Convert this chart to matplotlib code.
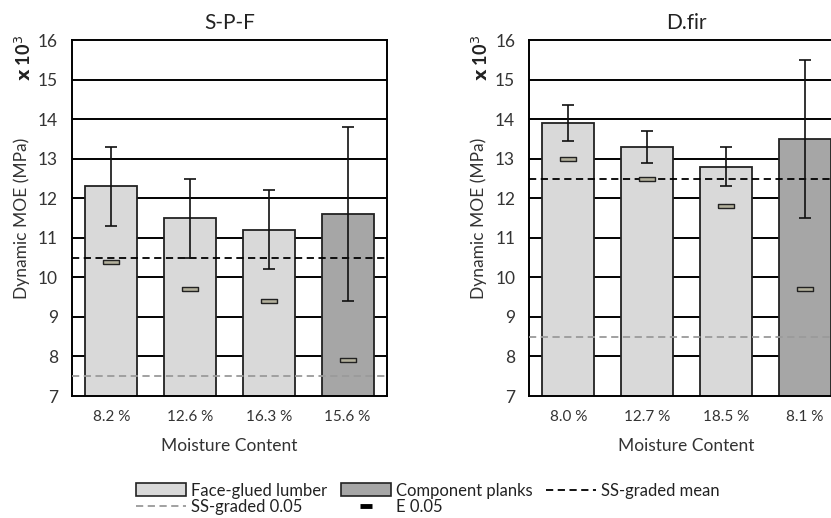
import numpy as np
import matplotlib.pyplot as plt
from matplotlib.patches import Patch
from matplotlib.lines import Line2D

plt.rcParams['font.family'] = ['Lato', 'DejaVu Sans']

# S-P-F data
spf_labels = ["8.2 %", "12.6 %", "16.3 %", "15.6 %"]
spf_mean = [12.3, 11.5, 11.2, 11.6]
spf_err_lo = [11.3, 10.5, 10.2, 9.4]
spf_err_hi = [13.3, 12.5, 12.2, 13.8]
spf_e005 = [10.4, 9.7, 9.4, 7.9]
spf_ss_mean = 10.5
spf_ss_005 = 7.5

# D.fir data
dfir_labels = ["8.0 %", "12.7 %", "18.5 %", "8.1 %"]
dfir_mean = [13.9, 13.3, 12.8, 13.5]
dfir_err_lo = [13.45, 12.9, 12.3, 11.5]
dfir_err_hi = [14.35, 13.7, 13.3, 15.5]
dfir_e005 = [13.0, 12.5, 11.8, 9.7]
dfir_ss_mean = 12.5
dfir_ss_005 = 8.5

# first three bars face-glued, last one component planks
bar_colors = ["#d9d9d9", "#d9d9d9", "#d9d9d9", "#a6a6a6"]
rect = [(-1, -0.32), (1, -0.32), (1, 0.32), (-1, 0.32), (-1, -0.32)]

fig = plt.figure(figsize=(8.31, 5.18), dpi=100)


def panel(ax, title, labels, mean, lo, hi, e005, ss_mean, ss_005):
    x = np.arange(len(labels))
    ax.set_xlim(-0.5, len(labels) - 0.5)
    ax.set_ylim(7, 16)
    ax.set_yticks(range(7, 17))
    for yv in range(8, 16):
        ax.axhline(yv, color="black", lw=1.4, zorder=0)
    ax.bar(x, mean, width=0.66, color=bar_colors, edgecolor="#222222", lw=1.3, zorder=2)
    mean = np.array(mean)
    yerr = [mean - np.array(lo), np.array(hi) - mean]
    ax.errorbar(x, mean, yerr=yerr, fmt="none", ecolor="#111111", elinewidth=1.2,
                capsize=4, capthick=1.2, zorder=4)
    ax.axhline(ss_mean, color="black", ls=(0, (4, 2.5)), lw=1.3, zorder=3)
    ax.axhline(ss_005, color="#9a9a9a", ls=(0, (4, 2.5)), lw=1.3, zorder=3)
    ax.plot(x, e005, ls="none", marker=rect, ms=11, mfc="#b3b09c", mec="#222222",
            mew=1.0, zorder=5)
    ax.set_xticks(x)
    ax.set_xticklabels(labels, fontsize=11, color="#333333")
    ax.tick_params(axis="both", length=0, pad=10, labelsize=12.5, colors="#333333")
    ax.tick_params(axis="x", labelsize=11)
    for s in ax.spines.values():
        s.set_linewidth(1.4)
        s.set_color("black")
    ax.set_title(title, fontsize=15, pad=8, color="#222222")
    ax.set_xlabel("Moisture Content", fontsize=12.5, color="#333333", labelpad=10)
    ax.set_ylabel("Dynamic MOE (MPa)", fontsize=12.5, color="#333333", labelpad=6)
    ax.text(-0.152, 0.95, r"$\mathbf{x}$ 10$^{3}$", transform=ax.transAxes, rotation=90,
            fontsize=13, fontweight="bold", ha="center", va="center", color="#222222")


ax1 = fig.add_axes([0.0866, 0.2355, 0.379, 0.687])
panel(ax1, "S-P-F", spf_labels, spf_mean, spf_err_lo, spf_err_hi, spf_e005,
      spf_ss_mean, spf_ss_005)

ax2 = fig.add_axes([0.6366, 0.2355, 0.379, 0.687])
panel(ax2, "D.fir", dfir_labels, dfir_mean, dfir_err_lo, dfir_err_hi, dfir_e005,
      dfir_ss_mean, dfir_ss_005)

handles = [
    Patch(facecolor="#d9d9d9", edgecolor="#222222", lw=1.2),
    Line2D([], [], color="#9a9a9a", ls=(0, (4, 2.5)), lw=1.3),
    Patch(facecolor="#a6a6a6", edgecolor="#222222", lw=1.2),
    Line2D([], [], ls="none", marker="_", ms=8, mew=3.5, color="black"),
    Line2D([], [], color="black", ls=(0, (4, 2.5)), lw=1.3),
]
names = ["Face-glued lumber", "SS-graded 0.05", "Component planks", "E 0.05",
         "SS-graded mean"]
fig.legend(handles, names, ncol=3, loc="lower left", bbox_to_anchor=(0.146, -0.024),
           frameon=False, fontsize=12, handlelength=3.0, handleheight=0.8,
           handletextpad=0.3, columnspacing=0.8, labelspacing=0.05,
           labelcolor="#222222")

fig.savefig("out.png", dpi=100)
